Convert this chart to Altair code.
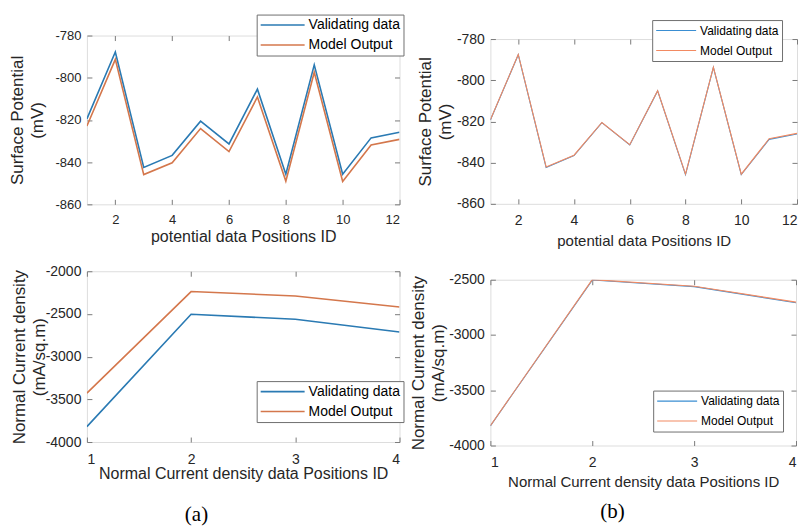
import altair as alt
import pandas as pd

SERIES = ["Validating data", "Model Output"]

pot_ids = [1, 2, 3, 4, 5, 6, 7, 8, 9, 10, 11, 12]
a_pot_valid = [-819.5, -787.8, -842.5, -836.8, -820.6, -831.4, -805.4, -845.7, -793.9, -845.7, -828.5, -825.8]
a_pot_model = [-822.9, -791.3, -845.9, -840.3, -824.1, -835.0, -809.1, -849.0, -797.4, -849.2, -831.9, -829.2]
b_pot_valid = [-819.3, -787.6, -842.4, -836.6, -820.6, -831.4, -805.2, -845.8, -793.8, -845.8, -828.7, -826.1]
b_pot_model = [-819.2, -787.5, -842.1, -836.4, -820.5, -831.3, -805.1, -845.6, -793.7, -845.6, -828.4, -825.8]

cur_ids = [1, 2, 3, 4]
a_cur_valid = [-3820, -2503, -2562, -2711]
a_cur_model = [-3427, -2238, -2289, -2419]
b_cur_valid = [-3822, -2503, -2562, -2708]
b_cur_model = [-3820, -2499, -2559, -2703]

pot_xticks = [2, 4, 6, 8, 10, 12]
pot_yticks = [-860, -840, -820, -800, -780]
cur_xticks = [1, 2, 3, 4]
a_cur_yticks = [-4000, -3500, -3000, -2500, -2000]
b_cur_yticks = [-4000, -3500, -3000, -2500]

FONT = "Liberation Sans"
TXT = "#262626"
FRAME = "#7a7a7a"
LABEL_EXPR = "replace(datum.label, '\u2212', '-')"


def frame_df(ids, valid, model):
    rows = []
    for name, vals in zip(SERIES, [valid, model]):
        for i, v in zip(ids, vals):
            rows.append({"id": i, "value": v, "series": name})
    return pd.DataFrame(rows)


def panel(ids, valid, model, xdom, xticks, ydom, yticks, xtitle, ytitle,
          w, h, colors, sw, lx, ly, lfs, symsize, xtfs, ytpad, xlpad, xtpad, tfs):
    df = frame_df(ids, valid, model)
    xs = alt.Scale(domain=xdom, nice=False, zero=False)
    ys = alt.Scale(domain=ydom, nice=False, zero=False)
    color = alt.Color(
        "series:N",
        scale=alt.Scale(domain=SERIES, range=colors),
        sort=SERIES,
        legend=alt.Legend(
            orient="none", legendX=lx, legendY=ly, title=None,
            symbolType="stroke", symbolSize=symsize, symbolStrokeWidth=sw,
            symbolOpacity=1, clipHeight=15,
            strokeColor="#6f6f6f", fillColor="white", padding=3,
            labelFont=FONT, labelFontSize=lfs, labelColor="black",
            rowPadding=5, labelOffset=3, direction="vertical",
        ),
    )
    main = alt.Chart(df).mark_line(strokeWidth=sw, clip=True).encode(
        x=alt.X("id:Q", scale=xs, axis=alt.Axis(
            orient="bottom", values=xticks, title=xtitle, format="d",
            offset=-5, tickSize=5, domain=False, grid=False,
            labelPadding=xlpad, labelFontSize=tfs, labelFont=FONT, labelColor=TXT,
            labelExpr=LABEL_EXPR,
            titleFont=FONT, titleFontSize=xtfs, titleFontWeight="normal",
            titleColor=TXT, titlePadding=xtpad, tickColor=FRAME)),
        y=alt.Y("value:Q", scale=ys, axis=alt.Axis(
            orient="left", values=yticks, title=ytitle, format="d",
            offset=-5, tickSize=5, domain=False, grid=False,
            labelPadding=6, labelFontSize=tfs, labelFont=FONT, labelColor=TXT,
            labelExpr=LABEL_EXPR,
            titleFont=FONT, titleFontSize=17, titleFontWeight="normal",
            titleColor=TXT, titlePadding=ytpad, titleLineHeight=20,
            tickColor=FRAME)),
        color=color,
        order=alt.Order("id:Q"),
    )
    ghost = alt.Chart(df).mark_line(opacity=0).encode(
        x=alt.X("id:Q", scale=xs, axis=alt.Axis(
            orient="top", values=xticks, labels=False, title=None,
            offset=-5, tickSize=5, domain=False, grid=False, tickColor=FRAME)),
        y=alt.Y("value:Q", scale=ys, axis=alt.Axis(
            orient="right", values=yticks, labels=False, title=None,
            offset=-5, tickSize=5, domain=False, grid=False, tickColor=FRAME)),
        detail="series:N",
    )
    return alt.layer(main, ghost).resolve_axis(x="independent", y="independent").properties(
        width=w, height=h)


A_COL = ["#2a7ab3", "#d4774c"]
B_COL = ["#3a8ed2", "#f28a62"]

a_top = panel(pot_ids, a_pot_valid, a_pot_model, [1, 12], pot_xticks, [-860, -780], pot_yticks,
              "potential data Positions ID", ["Surface Potential", "(mV)"],
              313, 169, A_COL, 1.6, 170, -21, 14, 1936, 16, 8, 9, 2, 13)
a_bot = panel(cur_ids, a_cur_valid, a_cur_model, [1, 4], cur_xticks, [-4000, -2000], a_cur_yticks,
              "Normal Current density data Positions ID", ["Normal Current density", "(mA/sq.m)"],
              313, 171, A_COL, 1.6, 170, 110, 14, 1936, 16, -3, 10, 0, 14)
b_top = panel(pot_ids, b_pot_valid, b_pot_model, [1, 12], pot_xticks, [-860, -780], pot_yticks,
              "potential data Positions ID", ["Surface Potential", "(mV)"],
              307, 165, B_COL, 1.1, 162, -19, 12, 1600, 15, 2, 10, 6, 14)
b_bot = panel(cur_ids, b_cur_valid, b_cur_model, [1, 4], cur_xticks, [-4000, -2500], b_cur_yticks,
              "Normal Current density data Positions ID", ["Normal Current density", "(mA/sq.m)"],
              306, 166, B_COL, 1.1, 163, 111, 12, 1600, 15, 1, 10, 5, 14)

col_a = alt.vconcat(a_top, a_bot, spacing=18, title=alt.TitleParams(
    "(a)", orient="bottom", anchor="middle", font="Liberation Serif", fontSize=21,
    fontWeight="normal", color="black", offset=22, dx=-10)).resolve_scale(color="independent")
col_b = alt.vconcat(b_top, b_bot, spacing=22, title=alt.TitleParams(
    "(b)", orient="bottom", anchor="middle", font="Liberation Serif", fontSize=21,
    fontWeight="normal", color="black", offset=11, dx=9)).resolve_scale(color="independent")

chart = alt.hconcat(col_a, col_b, spacing=4, center=True).resolve_scale(color="independent").properties(
    padding={"left": 0, "top": 5, "right": 0, "bottom": 0}).configure_view(
    stroke=FRAME, strokeWidth=1).configure(background="white")

chart.save("out.html", embed_options={"renderer": "svg", "actions": False})
